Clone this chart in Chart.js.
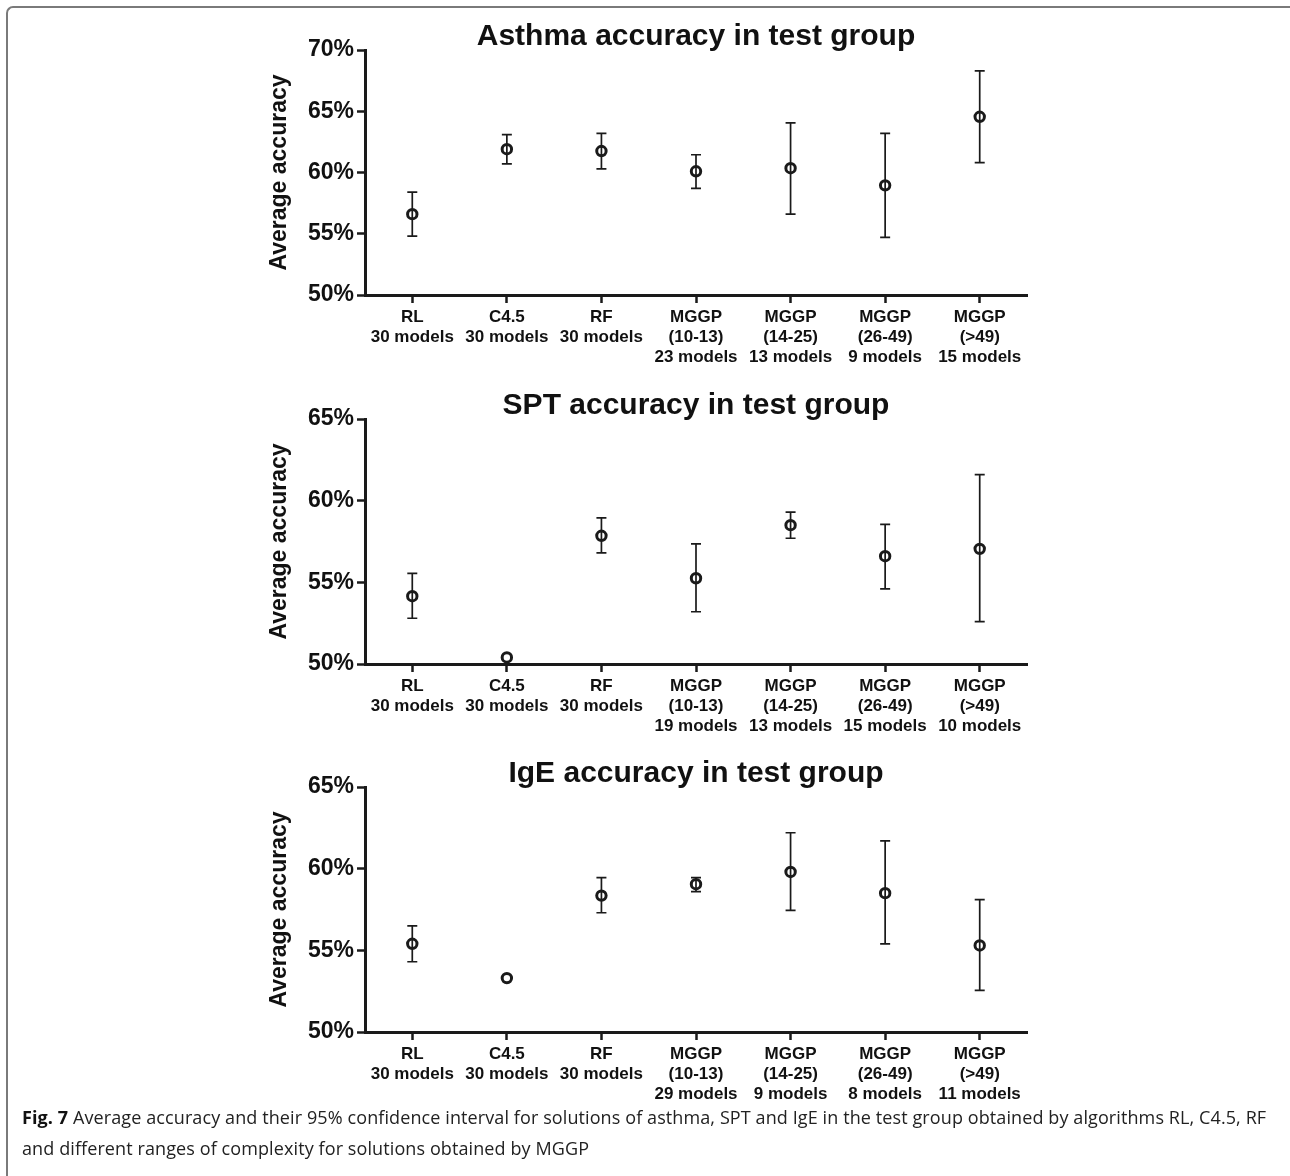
<!DOCTYPE html>
<html>
<head>
<meta charset="utf-8">
<script src="https://cdn.jsdelivr.net/npm/chart.js@4"></script>
<style>
  html, body { margin: 0; padding: 0; background: #fff; }
  body { width: 1290px; height: 1176px; position: relative; overflow: hidden; }
  .frame {
    position: absolute; left: 6px; top: 6px; width: 1300px; height: 1200px;
    border-left: 2px solid #7a7a7a; border-top: 2px solid #7a7a7a;
    border-top-left-radius: 7px;
  }
  canvas { position: absolute; left: 250px; }
  .caption {
    position: absolute; left: 22px; top: 1102px;
    font-family: "Open Sans", sans-serif; font-size: 18px; line-height: 31px;
    color: #222; letter-spacing: 0.1px; white-space: nowrap;
  }
  .caption b { color: #111; }
</style>
</head>
<body>
<div class="frame"></div>
<canvas id="asthma" width="892" height="360" style="top:15px"></canvas>
<canvas id="spt" width="892" height="360" style="top:384px"></canvas>
<canvas id="ige" width="892" height="360" style="top:752px"></canvas>
<div class="caption"><b>Fig. 7</b> Average accuracy and their 95% confidence interval for solutions of asthma, SPT and IgE in the test group obtained by algorithms RL, C4.5, RF<br>and different ranges of complexity for solutions obtained by MGGP</div>

<script>
// categories (first line of each label)
const groups = ['RL', 'C4.5', 'RF', 'MGGP\n(10-13)', 'MGGP\n(14-25)', 'MGGP\n(26-49)', 'MGGP\n(>49)'];

// number of models per group
const asthmaModels = [30, 30, 30, 23, 13, 9, 15];
const sptModels = [30, 30, 30, 19, 13, 15, 10];
const igeModels = [30, 30, 30, 29, 9, 8, 11];

// average accuracy (%) and 95% CI
const asthmaMean = [56.6, 61.9, 61.75, 60.1, 60.35, 58.95, 64.55];
const asthmaLow = [54.8, 60.7, 60.3, 58.7, 56.6, 54.7, 60.8];
const asthmaHigh = [58.4, 63.1, 63.2, 61.45, 64.05, 63.2, 68.3];

const sptMean = [54.15, 50.4, 57.85, 55.25, 58.5, 56.6, 57.05];
const sptLow = [52.8, null, 56.8, 53.2, 57.7, 54.6, 52.6];
const sptHigh = [55.55, null, 58.95, 57.35, 59.3, 58.55, 61.6];

const igeMean = [55.4, 53.3, 58.35, 59.05, 59.8, 58.5, 55.3];
const igeLow = [54.3, null, 57.3, 58.6, 57.45, 55.4, 52.55];
const igeHigh = [56.5, null, 59.45, 59.45, 62.2, 61.7, 58.1];

// y axis ranges
const asthmaRange = [50, 70];
const sptRange = [50, 65];
const igeRange = [50, 65];

const INK = '#1a1a1a';
const FONT = '"Liberation Sans", Arial, sans-serif';

// error bars drawn from the y scale
const errorBars = {
    id: 'errorBars',
    beforeDatasetsDraw(chart, args, opts) {
        const ctx = chart.ctx;
        const x = chart.scales.x;
        const y = chart.scales.y;
        ctx.save();
        ctx.strokeStyle = INK;
        ctx.lineWidth = 1.7;
        opts.lower.forEach((lo, i) => {
            const hi = opts.upper[i];
            if (lo == null || hi == null) return;
            const px = x.getPixelForValue(i);
            const y1 = y.getPixelForValue(lo);
            const y2 = y.getPixelForValue(hi);
            ctx.beginPath();
            ctx.moveTo(px, y1);
            ctx.lineTo(px, y2);
            ctx.moveTo(px - 5, y1);
            ctx.lineTo(px + 5, y1);
            ctx.moveTo(px - 5, y2);
            ctx.lineTo(px + 5, y2);
            ctx.stroke();
        });
        ctx.restore();
    }
};

function makeLabels(models) {
    return groups.map((g, i) => g.split('\n').concat(models[i] + ' models'));
}

function drawChart(id, title, models, mean, low, high, range) {
    const ctx = document.getElementById(id);
    return new Chart(ctx, {
        type: 'line',
        data: {
            labels: makeLabels(models),
            datasets: [{
                data: mean,
                showLine: false,
                clip: false,
                pointStyle: 'circle',
                pointRadius: 4.7,
                pointHoverRadius: 4.7,
                pointBorderWidth: 3,
                pointBorderColor: INK,
                pointBackgroundColor: 'rgba(0,0,0,0)'
            }]
        },
        options: {
            responsive: false,
            animation: false,
            events: [],
            layout: { padding: { top: 0, right: 115, bottom: 0, left: 0 } },
            plugins: {
                legend: { display: false },
                tooltip: { enabled: false },
                title: {
                    display: true,
                    fullSize: false,
                    text: title,
                    color: '#111',
                    font: { family: FONT, size: 30, weight: 'bold', lineHeight: 0.9 },
                    padding: { top: 8, bottom: 0 }
                },
                errorBars: { lower: low, upper: high }
            },
            scales: {
                x: {
                    offset: true,
                    afterFit: s => { s.height = 80; },
                    grid: {
                        drawOnChartArea: false,
                        drawTicks: true,
                        tickLength: 8,
                        tickWidth: 2.5,
                        tickColor: INK,
                        offset: false
                    },
                    border: { display: true, width: 3, color: INK },
                    ticks: {
                        color: '#111',
                        autoSkip: false,
                        maxRotation: 0,
                        padding: 4,
                        font: { family: FONT, size: 17, weight: 'bold', lineHeight: 1.18 }
                    }
                },
                y: {
                    min: range[0],
                    max: range[1],
                    afterFit: s => { s.width = 115; },
                    grid: {
                        drawOnChartArea: false,
                        drawTicks: true,
                        tickLength: 8,
                        tickWidth: 2.5,
                        tickColor: INK
                    },
                    border: { display: true, width: 3, color: INK },
                    ticks: {
                        stepSize: 5,
                        color: '#111',
                        padding: 3,
                        font: { family: FONT, size: 23, weight: 'bold' },
                        callback: v => v + '%'
                    },
                    title: {
                        display: true,
                        text: 'Average accuracy',
                        color: '#111',
                        font: { family: FONT, size: 23, weight: 'bold', lineHeight: 1.2 },
                        padding: { top: 16, bottom: 0 }
                    }
                }
            }
        },
        plugins: [errorBars]
    });
}

drawChart('asthma', 'Asthma accuracy in test group', asthmaModels, asthmaMean, asthmaLow, asthmaHigh, asthmaRange);
drawChart('spt', 'SPT accuracy in test group', sptModels, sptMean, sptLow, sptHigh, sptRange);
drawChart('ige', 'IgE accuracy in test group', igeModels, igeMean, igeLow, igeHigh, igeRange);
</script>
</body>
</html>
